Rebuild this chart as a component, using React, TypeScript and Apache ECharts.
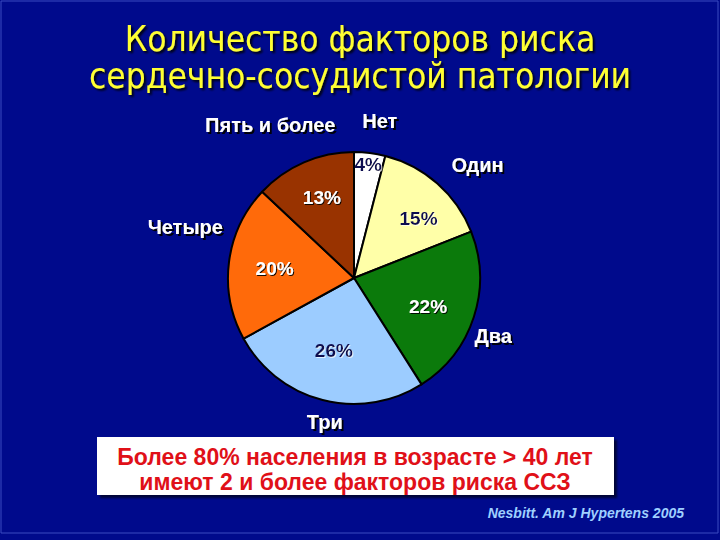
import React, { useEffect, useRef } from "react";
import * as echarts from "echarts";

const categories = ["Нет", "Один", "Два", "Три", "Четыре", "Пять и более"];
const values = [4, 15, 22, 26, 20, 13];
const titleLines = ["Количество факторов риска", "сердечно-сосудистой патологии"];
const noteLines = ["Более 80% населения в возрасте > 40 лет", "имеют 2 и более факторов риска ССЗ"];
const citation = "Nesbitt. Am J Hypertens 2005";

const sliceColors = ["#ffffff", "#ffffa8", "#0b7a0b", "#9cccff", "#ff6a0a", "#993300"];
const pctColors = ["#0d0d50", "#0d0d50", "#ffffff", "#0d0d50", "#ffffff", "#ffffff"];
const nameOffsets = [[6, 0], [19, 6], [-11, 9], [10, -9], [-12, -31], [-21, -8]];
const pctOffsets = [[4, -33], [11, 1], [-3, 3], [0, -6], [1, 1], [0, -6]];

const CENTER = [354, 278];
const R = 126;
const SANS = "'Liberation Sans', Arial, sans-serif";

export default function App() {
  const ref = useRef<HTMLDivElement>(null);
  useEffect(() => {
    if (!ref.current) return;
    const chart = echarts.init(ref.current, undefined, { renderer: "svg" });
    const data = categories.map((name, i) => ({ name, value: values[i] }));
    chart.setOption({
      animation: false,
      backgroundColor: "#000a8c",
      title: {
        text: titleLines.join("\n"),
        left: "center",
        top: 15,
        textStyle: {
          fontFamily: "'DejaVu Sans Condensed', 'DejaVu Sans', sans-serif",
          fontSize: 35,
          fontWeight: "normal",
          lineHeight: 37,
          color: "#ffff33",
          textShadowColor: "rgba(0,0,0,0.9)",
          textShadowOffsetX: 2,
          textShadowOffsetY: 2,
          textShadowBlur: 2,
        },
      },
      graphic: [
        {
          type: "rect",
          shape: { x: 1, y: 1, width: 717, height: 532 },
          style: { fill: "none", stroke: "#3a4ac0", lineWidth: 1 },
          silent: true,
        },
        {
          type: "rect",
          shape: { x: 97, y: 437, width: 517, height: 58 },
          style: {
            fill: "#ffffff",
            shadowColor: "rgba(0,0,0,0.6)",
            shadowOffsetX: 3,
            shadowOffsetY: 3,
            shadowBlur: 2,
          },
          silent: true,
        },
        {
          type: "text",
          x: 355,
          y: 469,
          style: {
            text: noteLines.join("\n"),
            align: "center",
            verticalAlign: "middle",
            fill: "#e01018",
            font: `bold 23px ${SANS}`,
            lineHeight: 25,
          },
          silent: true,
        },
        {
          type: "text",
          x: 684,
          y: 513,
          style: {
            text: citation,
            align: "right",
            verticalAlign: "middle",
            fill: "#9fd0ff",
            font: `italic bold 14px ${SANS}`,
          },
          silent: true,
        },
      ],
      series: [
        {
          type: "pie",
          center: CENTER,
          radius: [0, R],
          startAngle: 90,
          clockwise: true,
          silent: true,
          avoidLabelOverlap: false,
          data: data.map((d, i) => ({ ...d, itemStyle: { color: sliceColors[i] } })),
          itemStyle: { borderColor: "#000000", borderWidth: 2 },
          label: { show: false },
          labelLine: { show: false },
          emphasis: { disabled: true },
        },
        {
          type: "pie",
          center: CENTER,
          radius: [0, 156],
          startAngle: 90,
          clockwise: true,
          silent: true,
          avoidLabelOverlap: false,
          z: 3,
          data: data.map((d, i) => ({
            ...d,
            label: {
              color: pctColors[i],
              textShadowColor: pctColors[i] === "#ffffff" ? "rgba(0,0,0,0.9)" : "rgba(255,255,255,0.7)",
            },
          })),
          itemStyle: { color: "transparent", borderWidth: 0 },
          label: {
            show: true,
            position: "inside",
            formatter: "{c}%",
            fontFamily: SANS,
            fontWeight: "bold",
            fontSize: 19,
            textShadowOffsetX: 1,
            textShadowOffsetY: 1,
            textShadowBlur: 1,
          },
          labelLine: { show: false },
          labelLayout: (p: any) => ({ dx: pctOffsets[p.dataIndex][0], dy: pctOffsets[p.dataIndex][1] }),
          emphasis: { disabled: true },
        },
        {
          type: "pie",
          center: CENTER,
          radius: [0, 310],
          startAngle: 90,
          clockwise: true,
          silent: true,
          avoidLabelOverlap: false,
          z: 3,
          data,
          itemStyle: { color: "transparent", borderWidth: 0 },
          label: {
            show: true,
            position: "inside",
            formatter: "{b}",
            fontFamily: SANS,
            fontWeight: "bold",
            fontSize: 20,
            color: "#ffffff",
            textShadowColor: "rgba(0,0,0,0.95)",
            textShadowOffsetX: 2,
            textShadowOffsetY: 2,
            textShadowBlur: 1,
          },
          labelLine: { show: false },
          labelLayout: (p: any) => ({ dx: nameOffsets[p.dataIndex][0], dy: nameOffsets[p.dataIndex][1] }),
          emphasis: { disabled: true },
        },
      ],
    });
    return () => chart.dispose();
  }, []);
  return (
    <div
      ref={ref}
      style={{ position: "fixed", left: 0, top: 0, width: 720, height: 540 }}
    />
  );
}
